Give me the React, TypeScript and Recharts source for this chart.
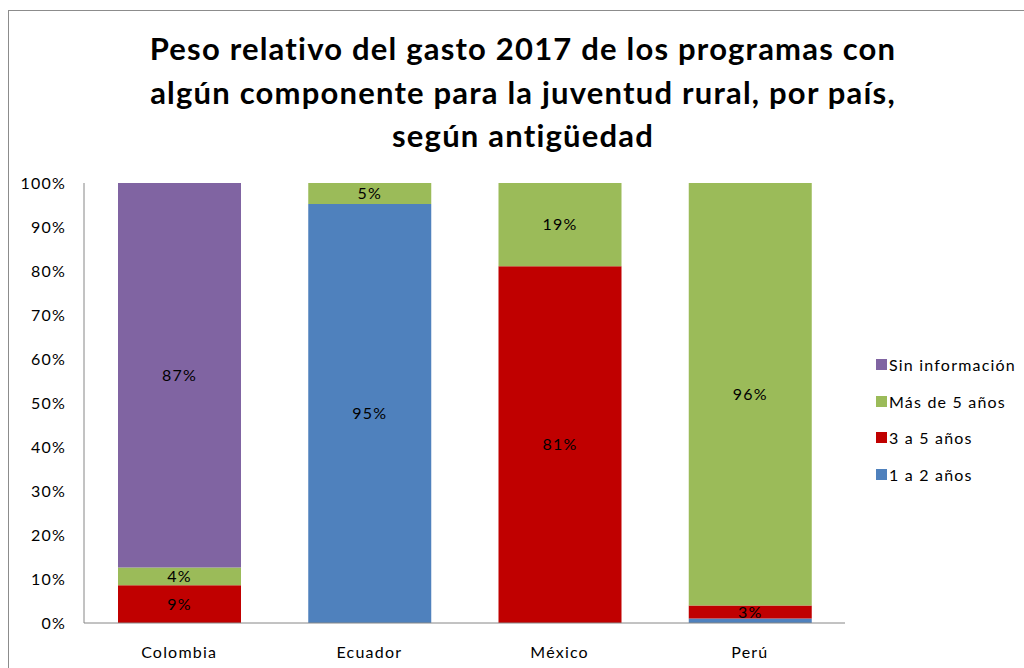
import React from 'react'
import { BarChart, Bar, XAxis, YAxis, LabelList } from 'recharts'

const countries = ['Colombia', 'Ecuador', 'México', 'Perú']
const anios1a2 = [0, 95.2, 0, 1]
const anios3a5 = [8.6, 0, 81.1, 3]
const mas5 = [4, 4.8, 18.9, 96]
const sinInfo = [87.4, 0, 0, 0]
const yTicks = [0, 10, 20, 30, 40, 50, 60, 70, 80, 90, 100]

const series = [
  { key: 'a12', name: '1 a 2 años', color: '#4F81BD', values: anios1a2 },
  { key: 'a35', name: '3 a 5 años', color: '#C00000', values: anios3a5 },
  { key: 'm5', name: 'Más de 5 años', color: '#9BBB59', values: mas5 },
  { key: 'sin', name: 'Sin información', color: '#8064A2', values: sinInfo },
]

const data = countries.map((c, i) => {
  const row: any = { name: c }
  series.forEach((s) => (row[s.key] = s.values[i]))
  return row
})

const FONT = 'Lato, "Open Sans", sans-serif'
const tickStyle = { fill: '#000', fontSize: 16, fontFamily: FONT, letterSpacing: 1.2 }

const fmt = (v: any) => (v >= 2 ? `${Math.round(v)}%` : '')

export default function App() {
  return (
    <div style={{ position: 'absolute', left: 0, top: 0, width: 1024, height: 668, fontFamily: FONT }}>
      <div
        style={{
          position: 'absolute',
          left: 8,
          top: 10,
          width: 1016,
          height: 658,
          boxSizing: 'border-box',
          borderTop: '1px solid #8c8c8c',
          borderLeft: '1px solid #8c8c8c',
        }}
      />
      <div
        style={{
          position: 'absolute',
          left: 100,
          width: 846,
          top: 27,
          textAlign: 'center',
          fontWeight: 700,
          fontSize: 31,
          letterSpacing: 1.2,
          lineHeight: '43.5px',
          color: '#000',
        }}
      >
        Peso relativo del gasto 2017 de los programas con
        <br />
        algún componente para la juventud rural, por país,
        <br />
        según antigüedad
      </div>
      <div style={{ position: 'absolute', left: 0, top: 0 }}>
        <BarChart
          width={1024}
          height={668}
          data={data}
          margin={{ top: 183, right: 179, bottom: 15, left: 24 }}
          barSize={123}
        >
          <XAxis
            dataKey="name"
            tickLine={false}
            tickMargin={18}
            height={30}
            stroke="#868686"
            tick={tickStyle}
          />
          <YAxis
            domain={[0, 100]}
            ticks={yTicks}
            tickFormatter={(v) => `${v}%`}
            tickLine={false}
            tickMargin={12}
            width={60}
            stroke="#868686"
            tick={tickStyle}
          />
          {series.map((s) => (
            <Bar key={s.key} dataKey={s.key} name={s.name} stackId="a" fill={s.color} isAnimationActive={false}>
              <LabelList
                dataKey={s.key}
                position="center"
                formatter={fmt}
                style={{ fill: '#000', fontSize: 16, fontFamily: FONT, letterSpacing: 1.2 }}
              />
            </Bar>
          ))}
        </BarChart>
      </div>
      <div style={{ position: 'absolute', left: 876, top: 346 }}>
        {[...series].reverse().map((s) => (
          <div
            key={s.key}
            style={{ display: 'flex', alignItems: 'center', height: 36.7, fontSize: 16, letterSpacing: 1.2 }}
          >
            <span style={{ width: 11, height: 11, background: s.color, marginRight: 2, display: 'inline-block' }} />
            <span>{s.name}</span>
          </div>
        ))}
      </div>
    </div>
  )
}
